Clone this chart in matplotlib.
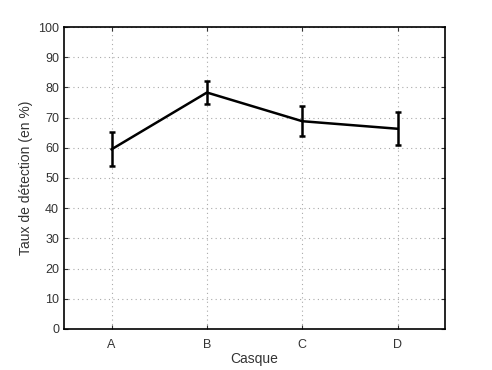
import matplotlib.pyplot as plt
import numpy as np

plt.rcParams['font.family'] = ['Liberation Sans', 'DejaVu Sans']

casques = ['A', 'B', 'C', 'D']
taux = [59.5, 78.3, 68.8, 66.3]
erreur = [5.7, 3.7, 5.0, 5.5]

fig = plt.figure(figsize=(4.92, 3.70), dpi=100)
ax = fig.add_axes([0.130, 0.111, 0.775, 0.816])

x = np.arange(1, len(casques) + 1)
ax.errorbar(x, taux, yerr=erreur, color='black', lw=1.8, elinewidth=1.8,
            capsize=2.5, capthick=1.8)

ax.set_xlim(0.5, 4.5)
ax.set_ylim(0, 100)
ax.set_xticks(x)
ax.set_xticklabels(casques)
ax.set_yticks(np.arange(0, 101, 10))
ax.grid(True, linestyle=(0, (1, 3)), color='#aaaaaa', lw=0.8)
ax.tick_params(direction='in', length=3, labelsize=9, colors='#333333',
               top=True, right=True)
ax.tick_params(axis='x', pad=7)
for s in ax.spines.values():
    s.set_linewidth(1.2)
ax.set_xlabel('Casque', fontsize=10, color='#333333', labelpad=1)
ax.set_ylabel('Taux de détection (en %)', fontsize=10, color='#333333')

fig.savefig('out.png', dpi=100)
